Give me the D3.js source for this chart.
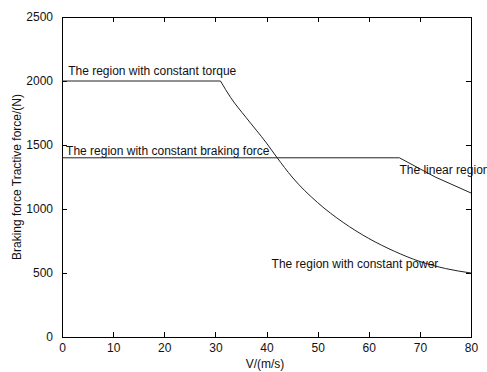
<!DOCTYPE html>
<html><head><meta charset="utf-8">
<script src="https://cdn.jsdelivr.net/npm/d3@7"></script>
<style>body{margin:0;background:#fff}svg{display:block}text{font-family:"Liberation Sans",Arial,sans-serif;fill:#111}</style>
</head><body><svg id="c" width="487" height="372"></svg>
<script>
const xTicks=[0,10,20,30,40,50,60,70,80];
const yTicks=[0,500,1000,1500,2000,2500];
const tractionV=[0,31,33,36,40,42,45,50,55,60,65,70,75,80];
const tractionF=[2000,2000,1870,1715,1515,1405,1250,1050,895,770,670,590,535,500];
const brakingV=[0,66,73,80];
const brakingF=[1400,1400,1250,1125];
const labels=[
 {t:"The region with constant torque",v:1.2,f:2050},
 {t:"The region with constant braking force",v:0.8,f:1420},
 {t:"The linear region",v:66,f:1275},
 {t:"The region with constant power",v:41,f:540}
];
const svg=d3.select("#c");
const L=62,R=471,T=17,B=337;
const x=d3.scaleLinear().domain([0,80]).range([L,R]);
const y=d3.scaleLinear().domain([0,2500]).range([B,T]);
const fs="12px";
svg.append("rect").attr("x",L).attr("y",T).attr("width",R-L).attr("height",B-T).attr("fill","none").attr("stroke","#000").attr("stroke-width",1).attr("shape-rendering","crispEdges");
const fmt=d3.format("d");
const gb=svg.append("g").attr("transform",`translate(0,${B})`).call(d3.axisBottom(x).tickValues(xTicks).tickFormat(fmt).tickSizeInner(-5).tickSizeOuter(0).tickPadding(6));
const gt=svg.append("g").attr("transform",`translate(0,${T})`).call(d3.axisTop(x).tickValues(xTicks).tickSizeInner(-5).tickSizeOuter(0).tickFormat(""));
const gl=svg.append("g").attr("transform",`translate(${L},0)`).call(d3.axisLeft(y).tickValues(yTicks).tickFormat(fmt).tickSizeInner(-5).tickSizeOuter(0).tickPadding(9));
const gr=svg.append("g").attr("transform",`translate(${R},0)`).call(d3.axisRight(y).tickValues(yTicks).tickSizeInner(-5).tickSizeOuter(0).tickFormat(""));
[gb,gt,gl,gr].forEach(g=>{g.select(".domain").remove();g.selectAll("line").attr("stroke","#000").attr("shape-rendering","crispEdges");g.selectAll("text").style("font-size",fs).style("font-family","'Liberation Sans',Arial,sans-serif").attr("fill","#222");});
const line=d3.line().x(d=>x(d[0])).y(d=>y(d[1]));
const tracPts=tractionV.map((v,i)=>[v,tractionF[i]]);
svg.append("path").attr("d",line(tracPts.slice(0,2))+line.curve(d3.curveMonotoneX)(tracPts.slice(1))).attr("fill","none").attr("stroke","#222").attr("stroke-width",1);
line.curve(d3.curveLinear);
svg.append("path").attr("d",line(brakingV.map((v,i)=>[v,brakingF[i]]))).attr("fill","none").attr("stroke","#222").attr("stroke-width",1);
labels.forEach(d=>svg.append("text").attr("x",x(d.v)).attr("y",y(d.f)).style("font-size",fs).text(d.t));
svg.append("text").attr("x",265).attr("y",368).attr("text-anchor","middle").style("font-size",fs).text("V/(m/s)");
svg.append("text").attr("transform",`translate(21,${(T+B)/2}) rotate(-90)`).attr("text-anchor","middle").style("font-size",fs).text("Braking force Tractive force/(N)");
</script></body></html>
